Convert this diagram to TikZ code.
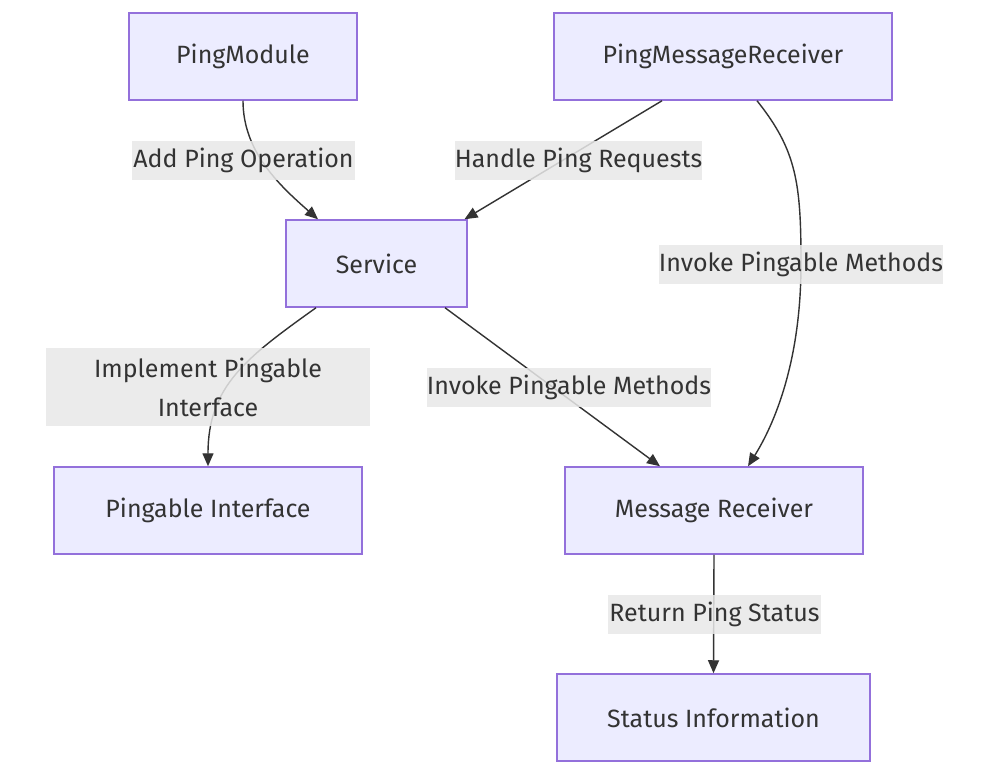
\documentclass[tikz,border=0pt]{standalone}
\usepackage{fontspec}
\setmainfont{Fira Sans}
\usetikzlibrary{arrows.meta,calc}
\definecolor{nodefill}{HTML}{ECECFF}
\definecolor{nodeline}{HTML}{9370DB}
\definecolor{txt}{HTML}{333333}
\definecolor{lblbg}{HTML}{E8E8E8}
\begin{document}
\begin{tikzpicture}[x=1pt,y=-1pt,
  box/.style={rectangle, fill=nodefill, draw=nodeline, line width=1.5pt, text=txt,
    font=\fontsize{25}{39}\selectfont, minimum height=87pt, inner sep=0pt},
  lbl/.style={rectangle, fill=lblbg, fill opacity=0.85, text opacity=1, text=txt,
    font=\fontsize{25}{39}\selectfont, inner sep=0pt, minimum height=39pt, align=center},
  edge/.style={draw=txt, line width=1.4pt, -{Triangle[length=13pt,width=11pt]}}]
\useasboundingbox (0,0) rectangle (990,775);
\fill[white] (0,0) rectangle (990,775);
% nodes
\node[box, minimum width=228pt] (pm) at (243,56.5) {PingModule};
\node[box, minimum width=338pt] (pmr) at (723,56.5) {PingMessageReceiver};
\node[box, minimum width=181pt] (svc) at (376.5,263.5) {Service};
\node[box, minimum width=308pt] (pi) at (208,510.5) {Pingable Interface};
\node[box, minimum width=298pt] (mr) at (714,510.5) {Message Receiver};
\node[box, minimum width=313pt] (si) at (713.5,717.5) {Status Information};
% edges
\draw[edge] ([xshift=0pt]pm.south) .. controls +(0,50) and +(-40,-35) .. ([xshift=-58.5pt]svc.north);
\draw[edge] ([xshift=-61pt]pmr.south) -- ([xshift=88pt]svc.north);
\draw[edge] ([xshift=34pt]pmr.south) .. controls +(40,50) and +(0,-80) .. (801,264)
  .. controls +(0,100) and +(25,-40) .. ([xshift=34pt]mr.north);
\draw[edge] ([xshift=-60.5pt]svc.south) .. controls +(-70,50) and +(0,-80) .. (pi.north);
\draw[edge] ([xshift=68.5pt]svc.south) -- ([xshift=-54pt]mr.north);
\draw[edge] (mr.south) -- (si.north);
% labels
\node[lbl, minimum width=223pt] (l1) at (243.5,160.5) {Add Ping Operation};
\node[lbl, minimum width=247pt] (l2) at (578.5,160.5) {Handle Ping Requests};
\node[lbl, minimum width=284pt] (l3) at (801,264.5) {Invoke Pingable Methods};
\node[lbl, minimum width=324pt, minimum height=78pt] (l4) at (208,387) {Implement Pingable\\Interface};
\node[lbl, minimum width=284pt] (l5) at (569,387) {Invoke Pingable Methods};
\node[lbl, minimum width=213pt] (l6) at (714.5,614) {Return Ping Status};
\end{tikzpicture}
\end{document}
